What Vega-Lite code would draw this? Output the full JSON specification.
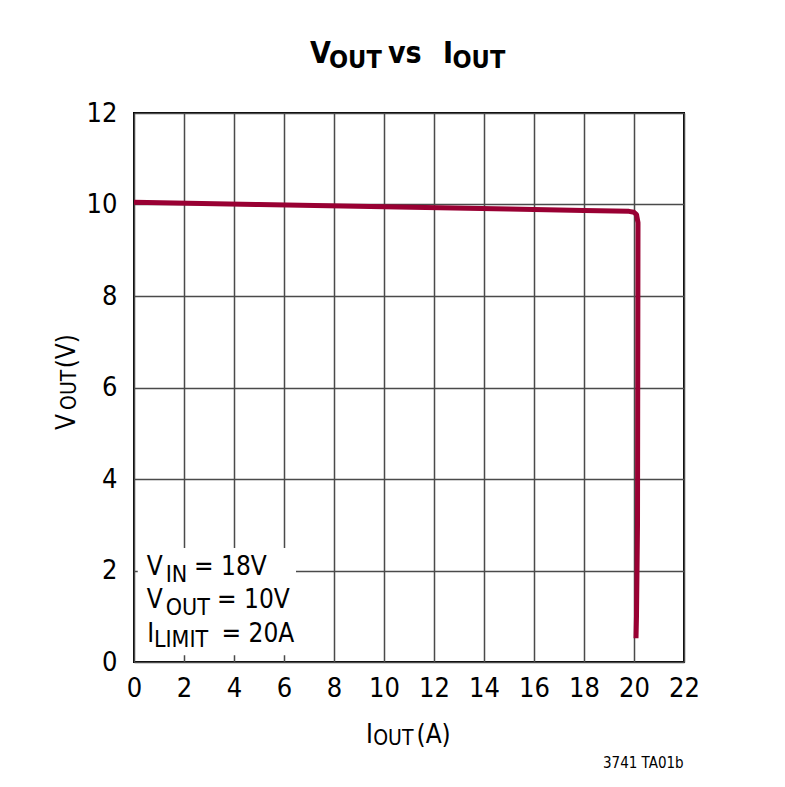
{
  "$schema": "https://vega.github.io/schema/vega-lite/v6.json",
  "width": 550,
  "height": 549,
  "autosize": {"type": "none"},
  "padding": {"left": 134, "top": 113, "right": 101, "bottom": 125},
  "background": "white",
  "datasets": {
    "curve": [
      {"i": 0, "v": 10.05},
      {"i": 5, "v": 10.0},
      {"i": 10, "v": 9.95},
      {"i": 15, "v": 9.9},
      {"i": 18, "v": 9.87},
      {"i": 19.8, "v": 9.85},
      {"i": 20.0, "v": 9.83},
      {"i": 20.1, "v": 9.78},
      {"i": 20.16, "v": 9.6},
      {"i": 20.14, "v": 3.0},
      {"i": 20.1, "v": 1.0},
      {"i": 20.08, "v": 0.52}
    ],
    "box": [{"x0": 0.15, "x1": 6.48, "y0": 0.15, "y1": 2.49}],
    "titleMain": [
      {"x": 7.04, "y": 13.09, "t": "V"},
      {"x": 10.16, "y": 13.09, "t": "vs"},
      {"x": 12.36, "y": 13.09, "t": "I"}
    ],
    "titleSub": [
      {"x": 7.8, "y": 12.98, "t": "OUT"},
      {"x": 12.74, "y": 12.98, "t": "OUT"}
    ],
    "textMain": [
      {"x": 0.51, "y": 1.9, "t": "V"},
      {"x": 2.4, "y": 1.9, "t": "= 18V"},
      {"x": 0.51, "y": 1.174, "t": "V"},
      {"x": 3.32, "y": 1.174, "t": "= 10V"},
      {"x": 0.53, "y": 0.444, "t": "I"},
      {"x": 3.5, "y": 0.444, "t": "= 20A"},
      {"x": 9.28, "y": -1.77, "t": "I"},
      {"x": 11.3, "y": -1.77, "t": "(A)"}
    ],
    "textSub": [
      {"x": 1.27, "y": 1.755, "t": "IN"},
      {"x": 1.27, "y": 1.027, "t": "OUT"},
      {"x": 0.8, "y": 0.334, "t": "LIMIT"}
    ],
    "axisSub": [
      {"x": 9.57, "y": -1.82, "t": "OUT"}
    ],
    "rotMain": [
      {"x": -2.36, "y": 5.07, "t": "V"},
      {"x": -2.36, "y": 6.42, "t": "(V)"}
    ],
    "rotSub": [
      {"x": -2.32, "y": 5.51, "t": "OUT"}
    ],
    "note": [
      {"x": 18.76, "y": -2.32, "t": "3741 TA01b"}
    ]
  },
  "layer": [
    {
      "data": {"name": "box"},
      "mark": {"type": "rect", "fill": "white", "stroke": null},
      "encoding": {
        "x": {"field": "x0", "type": "quantitative", "scale": {"domain": [0, 22], "nice": false, "zero": false}, "title": null, "axis": {"values": [0, 2, 4, 6, 8, 10, 12, 14, 16, 18, 20, 22], "labelPadding": 13}},
        "x2": {"field": "x1"},
        "y": {"field": "y0", "type": "quantitative", "scale": {"domain": [0, 12], "nice": false, "zero": false}, "title": null, "axis": {"values": [0, 2, 4, 6, 8, 10, 12], "labelPadding": 17}},
        "y2": {"field": "y1"}
      }
    },
    {
      "data": {"name": "curve"},
      "mark": {"type": "line", "color": "#990033", "strokeWidth": 5, "strokeJoin": "round"},
      "encoding": {
        "x": {"field": "i", "type": "quantitative", "title": null},
        "y": {"field": "v", "type": "quantitative", "title": null},
        "order": {"value": null}
      }
    },
    {
      "data": {"name": "titleMain"},
      "mark": {"type": "text", "align": "left", "baseline": "alphabetic", "font": "DejaVu Sans Condensed, Roboto, sans-serif", "fontWeight": "bold", "fontSize": 30, "color": "black"},
      "encoding": {
        "x": {"field": "x", "type": "quantitative", "title": null},
        "y": {"field": "y", "type": "quantitative", "title": null},
        "text": {"field": "t"}
      }
    },
    {
      "data": {"name": "titleSub"},
      "mark": {"type": "text", "align": "left", "baseline": "alphabetic", "font": "DejaVu Sans Condensed, Roboto, sans-serif", "fontWeight": "bold", "fontSize": 25, "color": "black"},
      "encoding": {
        "x": {"field": "x", "type": "quantitative", "title": null},
        "y": {"field": "y", "type": "quantitative", "title": null},
        "text": {"field": "t"}
      }
    },
    {
      "data": {"name": "textMain"},
      "mark": {"type": "text", "align": "left", "baseline": "alphabetic", "font": "DejaVu Sans Condensed, Roboto, sans-serif", "fontSize": 26, "color": "black"},
      "encoding": {
        "x": {"field": "x", "type": "quantitative", "title": null},
        "y": {"field": "y", "type": "quantitative", "title": null},
        "text": {"field": "t"}
      }
    },
    {
      "data": {"name": "textSub"},
      "mark": {"type": "text", "align": "left", "baseline": "alphabetic", "font": "DejaVu Sans Condensed, Roboto, sans-serif", "fontSize": 23, "color": "black"},
      "encoding": {
        "x": {"field": "x", "type": "quantitative", "title": null},
        "y": {"field": "y", "type": "quantitative", "title": null},
        "text": {"field": "t"}
      }
    },
    {
      "data": {"name": "axisSub"},
      "mark": {"type": "text", "align": "left", "baseline": "alphabetic", "font": "DejaVu Sans Condensed, Roboto, sans-serif", "fontSize": 21, "color": "black"},
      "encoding": {
        "x": {"field": "x", "type": "quantitative", "title": null},
        "y": {"field": "y", "type": "quantitative", "title": null},
        "text": {"field": "t"}
      }
    },
    {
      "data": {"name": "rotMain"},
      "mark": {"type": "text", "align": "left", "baseline": "alphabetic", "angle": 270, "font": "DejaVu Sans Condensed, Roboto, sans-serif", "fontSize": 26, "color": "black"},
      "encoding": {
        "x": {"field": "x", "type": "quantitative", "title": null},
        "y": {"field": "y", "type": "quantitative", "title": null},
        "text": {"field": "t"}
      }
    },
    {
      "data": {"name": "rotSub"},
      "mark": {"type": "text", "align": "left", "baseline": "alphabetic", "angle": 270, "font": "DejaVu Sans Condensed, Roboto, sans-serif", "fontSize": 21, "color": "black"},
      "encoding": {
        "x": {"field": "x", "type": "quantitative", "title": null},
        "y": {"field": "y", "type": "quantitative", "title": null},
        "text": {"field": "t"}
      }
    },
    {
      "data": {"name": "note"},
      "mark": {"type": "text", "align": "left", "baseline": "alphabetic", "font": "DejaVu Sans Condensed, Roboto, sans-serif", "fontSize": 15, "color": "black"},
      "encoding": {
        "x": {"field": "x", "type": "quantitative", "title": null},
        "y": {"field": "y", "type": "quantitative", "title": null},
        "text": {"field": "t"}
      }
    }
  ],
  "config": {
    "view": {"stroke": "black", "strokeWidth": 2},
    "axis": {
      "grid": true,
      "gridColor": "#4a4a4a",
      "gridWidth": 1.5,
      "domain": false,
      "ticks": false,
      "labelFont": "DejaVu Sans Condensed, Roboto, sans-serif",
      "labelFontSize": 27,
      "labelColor": "black",
      "labelFlush": false,
      "labelOverlap": false
    }
  }
}
